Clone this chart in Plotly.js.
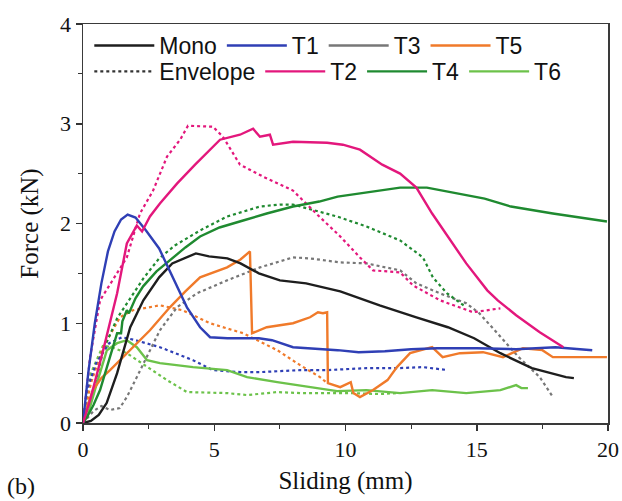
<!DOCTYPE html>
<html>
<head>
<meta charset="utf-8">
<script src="https://cdn.plot.ly/plotly-3.0.1.min.js"></script>
<style>html,body{margin:0;padding:0;background:#fff;}#chart{width:622px;height:501px;}</style>
</head>
<body>
<div id="chart"></div>
<script>
// ---- data ----
const monoX = [0, 0.3, 0.6, 0.9, 1.3, 1.8, 2.3, 2.9, 3.4, 3.9, 4.3, 4.8, 5.5, 6.0, 6.7, 7.5, 8.5, 9.8, 11.3, 12.7, 13.9, 14.9, 15.9, 17.1, 18.4, 18.7];
const monoY = [0, 0.02, 0.08, 0.2, 0.5, 0.96, 1.23, 1.46, 1.6, 1.66, 1.70, 1.67, 1.65, 1.6, 1.5, 1.43, 1.40, 1.32, 1.18, 1.06, 0.96, 0.85, 0.70, 0.55, 0.46, 0.45];

const t1X = [0, 0.2, 0.45, 0.7, 0.95, 1.2, 1.45, 1.7, 2.0, 2.4, 2.9, 3.4, 3.96, 4.46, 4.84, 5.5, 6.7, 7.2, 8.0, 9.7, 10.5, 11.5, 12.5, 13.5, 15, 16.5, 18, 19.4];
const t1Y = [0, 0.5, 1.0, 1.4, 1.72, 1.92, 2.04, 2.09, 2.06, 1.93, 1.75, 1.47, 1.16, 0.96, 0.86, 0.85, 0.85, 0.83, 0.76, 0.73, 0.71, 0.72, 0.74, 0.75, 0.75, 0.74, 0.76, 0.73];

const t2X = [0, 0.27, 0.77, 1.3, 1.67, 1.87, 2.05, 2.25, 2.55, 2.93, 3.58, 4.27, 4.72, 5.22, 5.98, 6.48, 6.74, 7.12, 7.24, 8.0, 9.3, 9.9, 10.55, 11.4, 12.08, 12.7, 13.3, 13.9, 14.6, 15.4, 15.8, 16.5, 17.4, 18.3];
const t2Y = [0, 0.23, 0.73, 1.3, 1.8, 1.90, 1.98, 1.92, 2.07, 2.2, 2.4, 2.59, 2.71, 2.84, 2.89, 2.95, 2.87, 2.89, 2.79, 2.82, 2.81, 2.79, 2.74, 2.59, 2.5, 2.36, 2.1, 1.87, 1.6, 1.33, 1.23, 1.08, 0.91, 0.76];

const t4X = [0, 0.15, 0.4, 0.65, 0.9, 1.1, 1.2, 1.3, 1.45, 1.5, 1.67, 1.75, 2.0, 2.29, 2.8, 3.31, 3.9, 4.46, 5.2, 6.1, 7.0, 8.0, 9.0, 9.7, 10.8, 12.08, 13.1, 14.6, 15.3, 16.3, 17.9, 19.96];
const t4Y = [0, 0.06, 0.18, 0.33, 0.55, 0.72, 0.8, 0.9, 0.9, 1.02, 1.13, 1.1, 1.25, 1.37, 1.52, 1.63, 1.76, 1.87, 1.96, 2.03, 2.1, 2.17, 2.22, 2.27, 2.31, 2.36, 2.36, 2.29, 2.25, 2.17, 2.10, 2.02];

const t5X = [0, 0.15, 0.38, 0.7, 1.03, 1.67, 2.55, 3.31, 3.9, 4.46, 5.49, 6.0, 6.36, 6.44, 7.0, 8.0, 8.65, 8.95, 9.14, 9.3, 9.33, 9.8, 10.2, 10.3, 10.55, 11.05, 11.6, 11.96, 12.46, 13.3, 13.7, 14.36, 15.24, 16.0, 16.76, 17.5, 17.9, 19.05, 19.96];
const t5Y = [0, 0.16, 0.33, 0.45, 0.53, 0.70, 0.93, 1.16, 1.32, 1.46, 1.56, 1.64, 1.72, 0.90, 0.96, 1.0, 1.06, 1.11, 1.1, 1.11, 0.40, 0.36, 0.41, 0.30, 0.26, 0.33, 0.43, 0.56, 0.70, 0.76, 0.66, 0.70, 0.71, 0.66, 0.75, 0.73, 0.66, 0.66, 0.66];

const t6X = [0, 0.2, 0.53, 0.91, 1.3, 1.67, 2.05, 2.44, 2.93, 4.19, 5.49, 6.25, 7.4, 8.65, 9.68, 10.8, 12.08, 13.3, 14.6, 15.9, 16.5, 16.7, 16.95];
const t6Y = [0, 0.1, 0.40, 0.73, 0.80, 0.83, 0.76, 0.63, 0.60, 0.56, 0.53, 0.46, 0.41, 0.36, 0.32, 0.33, 0.30, 0.33, 0.30, 0.33, 0.38, 0.35, 0.35];

// envelopes (dotted)
const env1X = [0, 0.15, 0.5, 1.0, 1.49, 2.0, 2.93, 4.19, 4.95, 6.0, 6.74, 8.27, 9.3, 10.8, 12.0, 12.95, 13.9];
const env1Y = [0, 0.33, 0.6, 0.8, 0.86, 0.83, 0.76, 0.63, 0.53, 0.51, 0.51, 0.53, 0.53, 0.55, 0.55, 0.56, 0.53];

const env2X = [0, 0.27, 0.65, 1.67, 2.17, 2.67, 3.2, 3.7, 4.0, 4.95, 5.33, 5.98, 6.86, 8.0, 9.0, 9.8, 10.55, 11.05, 12.08, 12.57, 13.6, 14.86, 15.9];
const env2Y = [0, 0.66, 1.23, 1.66, 2.1, 2.33, 2.67, 2.84, 2.98, 2.97, 2.87, 2.59, 2.47, 2.33, 2.07, 1.87, 1.66, 1.53, 1.51, 1.38, 1.23, 1.11, 1.15];

const env3X = [0, 0.4, 0.7, 1.03, 1.4, 1.67, 2.05, 2.55, 2.93, 3.58, 4.34, 5.49, 6.74, 8.0, 8.65, 9.8, 10.8, 12.08, 12.7, 13.6, 14.6, 15.1, 15.9, 16.6, 17.4, 17.9];
const env3Y = [0, 0.12, 0.17, 0.13, 0.15, 0.26, 0.46, 0.73, 0.93, 1.16, 1.30, 1.43, 1.56, 1.66, 1.65, 1.61, 1.60, 1.53, 1.40, 1.30, 1.20, 1.10, 0.86, 0.66, 0.46, 0.26];

const env4X = [0, 0.3, 0.77, 1.3, 1.8, 2.3, 2.9, 3.5, 4.46, 5.49, 6.74, 7.5, 8.0, 9.0, 9.68, 10.8, 12.08, 12.95, 13.33, 13.87, 14.5];
const env4Y = [0, 0.2, 0.73, 1.05, 1.25, 1.45, 1.65, 1.78, 1.93, 2.07, 2.17, 2.19, 2.19, 2.12, 2.07, 1.97, 1.83, 1.66, 1.46, 1.30, 1.18];

const env5X = [0, 0.3, 0.77, 1.41, 1.9, 2.93, 3.8, 4.84, 6.1, 7.4, 8.27, 9.03, 9.3];
const env5Y = [0, 0.4, 0.76, 1.06, 1.13, 1.18, 1.13, 1.0, 0.90, 0.73, 0.58, 0.46, 0.40];

const env6X = [0, 0.3, 0.77, 1.2, 1.67, 2.44, 3.2, 3.96, 5.49, 6.25, 7.4, 8.27, 9.3, 10.2, 11.3, 12.0];
const env6Y = [0, 0.5, 0.78, 0.75, 0.70, 0.56, 0.43, 0.31, 0.30, 0.28, 0.31, 0.30, 0.30, 0.30, 0.29, 0.30];

const legendRow1 = ['Mono', 'T1', 'T3', 'T5'];
const legendRow2 = ['Envelope', 'T2', 'T4', 'T6'];
const xTicks = [0, 5, 10, 15, 20];
const yTicks = [0, 1, 2, 3, 4];

// ---- styles ----
const C = {Mono:'#1e1e1e', T1:'#2f3fb5', T2:'#e3177c', T3:'#777777', T4:'#1f8a30', T5:'#f07a2a', T6:'#6cc24a', Envelope:'#333333'};
const SW = 2.4, DW = 2.2;

function solid(x, y, name) {
  return {x, y, name, type:'scatter', mode:'lines', line:{color:C[name], width:SW}, showlegend:false};
}
function dotted(x, y, name) {
  return {x, y, name: name + ' envelope', type:'scatter', mode:'lines', line:{color:C[name], width:DW, dash:'dot'}, showlegend:false};
}
function key(name, legend) {
  const isEnv = name === 'Envelope';
  return {x:[null], y:[null], name, type:'scatter', mode:'lines',
    line:{color:C[name], width:isEnv ? DW : SW, dash:isEnv ? 'dot' : 'solid'}, legend, showlegend:true};
}

const traces = [
  dotted(env6X, env6Y, 'T6'),
  dotted(env5X, env5Y, 'T5'),
  dotted(env1X, env1Y, 'T1'),
  dotted(env3X, env3Y, 'T3'),
  dotted(env4X, env4Y, 'T4'),
  dotted(env2X, env2Y, 'T2'),
  solid(t6X, t6Y, 'T6'),
  solid(t5X, t5Y, 'T5'),
  solid(monoX, monoY, 'Mono'),
  solid(t4X, t4Y, 'T4'),
  solid(t1X, t1Y, 'T1'),
  solid(t2X, t2Y, 'T2'),
  ...legendRow1.map(n => key(n, 'legend')),
  ...legendRow2.map(n => key(n, 'legend2'))
];

const serif = 'Liberation Serif';
const sans = 'Liberation Sans';
const legendBase = {orientation:'h', xanchor:'left', yanchor:'top', bgcolor:'rgba(0,0,0,0)',
  font:{family:sans, size:23, color:'#111'}, itemwidth:60, traceorder:'normal'};

const layout = {
  width:622, height:501, showlegend:true,
  margin:{l:83, r:14, t:24, b:78},
  paper_bgcolor:'#fff', plot_bgcolor:'#fff',
  xaxis:{range:[0,20], tickvals:xTicks, ticks:'outside', ticklen:6, tickwidth:1.5, tickcolor:'#333',
    showline:true, linecolor:'#3a3a3a', linewidth:1.5, mirror:true, showgrid:false, zeroline:false,
    tickfont:{family:serif, size:22, color:'#111'},
    minor:{dtick:2.5, ticks:'outside', ticklen:4, tickcolor:'#333', tickwidth:1.2, showgrid:false},
    title:{text:'Sliding (mm)', font:{family:serif, size:25, color:'#111'}, standoff:10}},
  yaxis:{range:[0,4], tickvals:yTicks, ticks:'outside', ticklen:6, tickwidth:1.5, tickcolor:'#333',
    showline:true, linecolor:'#3a3a3a', linewidth:1.5, mirror:true, showgrid:false, zeroline:false,
    tickfont:{family:serif, size:22, color:'#111'},
    minor:{dtick:0.5, ticks:'outside', ticklen:4, tickcolor:'#333', tickwidth:1.2, showgrid:false},
    title:{text:'Force (kN)', font:{family:serif, size:25, color:'#111'}, standoff:14}},
  legend: Object.assign({x:0.012, y:1.0}, legendBase),
  legend2: Object.assign({x:0.012, y:0.935}, legendBase),
  annotations:[{text:'(b)', xref:'paper', yref:'paper', x:-0.148, y:-0.195, xanchor:'left', yanchor:'bottom',
    showarrow:false, font:{family:serif, size:24, color:'#111'}}]
};

Plotly.newPlot('chart', traces, layout, {staticPlot:true, displayModeBar:false});
</script>
</body>
</html>
